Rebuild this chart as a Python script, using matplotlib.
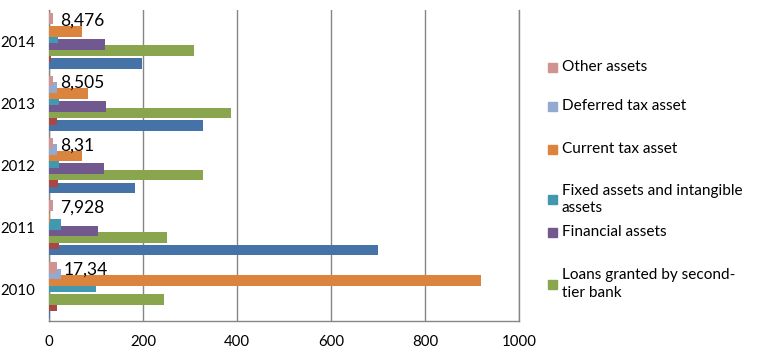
import matplotlib
matplotlib.use("Agg")
import matplotlib.pyplot as plt
import numpy as np

plt.rcParams["font.family"] = ["Lato", "DejaVu Sans"]

years = ["2010", "2011", "2012", "2013", "2014"]

# series in drawing order (bottom bar of each group first)
series_names = [
    "Cash and cash equivalents",
    "Due from banks",
    "Loans granted by second-\ntier bank",
    "Financial assets",
    "Fixed assets and intangible\nassets",
    "Current tax asset",
    "Deferred tax asset",
    "Other assets",
]
cash = [3, 701, 184, 328, 197]
due_banks = [16, 22, 20, 16, 5]
loans = [244, 252, 328, 388, 308]
financial = [0, 104, 116, 122, 120]
fixed_assets = [99, 25, 22, 22, 20]
current_tax = [920, 3, 70, 82, 71]
deferred_tax = [25, 0, 18, 18, 0]
other_assets = [17.34, 7.928, 8.31, 8.505, 8.476]
other_labels = ["17,34", "7,928", "8,31", "8,505", "8,476"]

values = [cash, due_banks, loans, financial, fixed_assets,
          current_tax, deferred_tax, other_assets]
colors = ["#4572A7", "#AA4643", "#89A54E", "#71588F",
          "#4198AF", "#DB843D", "#93A9CF", "#D19392"]

fig = plt.figure(figsize=(7.58, 3.55), dpi=100)
ax = fig.add_axes([49 / 758, 1 - 321 / 355, 470 / 758, 311 / 355])

y = np.arange(len(years))
h = 0.169      # bar thickness
step = 0.103   # bars overlap a little, Excel style
n = len(values)
for i, (vals, col) in enumerate(zip(values, colors)):
    ax.barh(y + (i - (n - 1) / 2) * step, vals, height=h, color=col, zorder=3 + i)

# data labels for "Other assets"
for yi, v, lab in zip(y, other_assets, other_labels):
    ax.annotate(lab, (v, yi + (n - 1) / 2 * step), xytext=(5, -1.5),
                textcoords="offset points", ha="left", va="center",
                fontsize=12.5, color="#000000", zorder=20)

ax.set_xlim(0, 1000)
ax.set_ylim(-0.5, 4.5)
ax.set_xticks(range(0, 1001, 200))
ax.set_yticks(y)
ax.set_yticklabels(years)
ax.tick_params(length=0, labelsize=10.8, colors="#000000")
ax.tick_params(axis="x", pad=10)
ax.tick_params(axis="y", pad=10)
ax.grid(axis="x", color="#868686", linewidth=1, zorder=0)
for s in ["left", "bottom", "right"]:
    ax.spines[s].set_color("#868686")
    ax.spines[s].set_linewidth(1)
ax.spines["top"].set_visible(False)

# legend drawn by hand to keep Excel's uneven spacing
legend_items = [(7, 67), (6, 106), (5, 149), (4, 199.5), (3, 232), (2, 284)]
for idx, ypx in legend_items:
    fig.patches.append(plt.Rectangle((548 / 758, 1 - (ypx + 4.5) / 355),
                                     9 / 758, 9 / 355, color=colors[idx],
                                     transform=fig.transFigure))
    name = series_names[idx]
    fig.text(562 / 758, 1 - ypx / 355, name, ha="left", va="center",
             fontsize=11.1, linespacing=1.35)

fig.savefig("out.png", dpi=100)
